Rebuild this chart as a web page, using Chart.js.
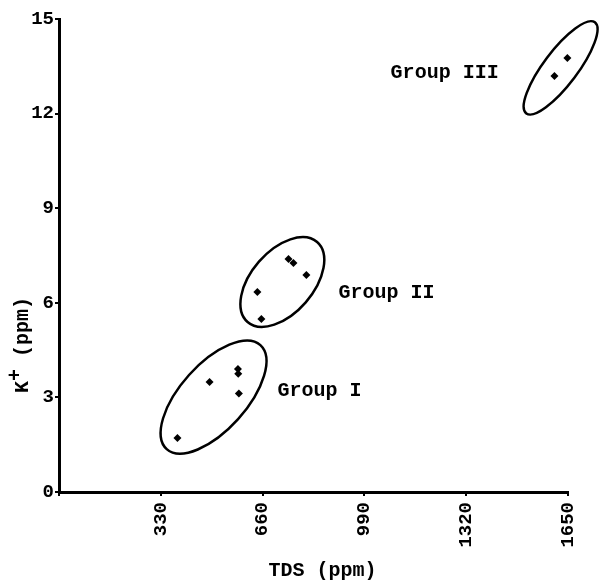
<!DOCTYPE html>
<html>
<head>
<meta charset="utf-8">
<script src="https://cdn.jsdelivr.net/npm/chart.js@4"></script>
<style>
  html, body { margin: 0; padding: 0; background: #fff; }
  canvas { display: block; }
</style>
</head>
<body>
<canvas id="tds-canvas" width="599" height="582"></canvas>
<script>
// values
const groupNames = ['Group I', 'Group II', 'Group III']
const groupOneTds = [384, 488, 580, 581, 583]
const groupOneK = [1.71, 3.49, 3.9, 3.75, 3.12]
const groupTwoTds = [643, 656, 744, 760, 802]
const groupTwoK = [6.34, 5.49, 7.39, 7.26, 6.88]
const groupThreeTds = [1606, 1648]
const groupThreeK = [13.19, 13.76]

const tdsTicks = [0, 330, 660, 990, 1320, 1650]
const kTicks = [0, 3, 6, 9, 12, 15]

// hand drawn rings round each group (centre in data units, radii in px)
const groupRings = [
  { tds: 501, k: 3.01, rx: 70, ry: 33, tilt: 48 },
  { tds: 724, k: 6.66, rx: 53, ry: 31, tilt: 49 },
  { tds: 1626, k: 13.45, rx: 57, ry: 17, tilt: 53 }
]
const groupLabelSpots = [
  { tds: 708, k: 3.2 },
  { tds: 906, k: 6.31 },
  { tds: 1075, k: 13.29 }
]

const mono = "'Liberation Mono', 'DejaVu Sans Mono', monospace"
Chart.defaults.font.family = mono
Chart.defaults.font.weight = 'bold'
Chart.defaults.color = '#000'

const toPoints = (xs, ys) => xs.map((x, i) => ({ x, y: ys[i] }))

const datasets = [
  toPoints(groupOneTds, groupOneK),
  toPoints(groupTwoTds, groupTwoK),
  toPoints(groupThreeTds, groupThreeK)
].map((data, i) => ({
  label: groupNames[i],
  data,
  clip: false,
  pointStyle: 'rectRot',
  pointRadius: 4,
  backgroundColor: '#000',
  borderColor: '#000',
  borderWidth: 0
}))

const annotations = {
  id: 'annotations',
  afterDraw(chart) {
    const { ctx, chartArea, scales: { x, y } } = chart
    ctx.save()
    ctx.strokeStyle = '#000'
    ctx.lineWidth = 2.5
    groupRings.forEach(r => {
      ctx.beginPath()
      ctx.ellipse(x.getPixelForValue(r.tds), y.getPixelForValue(r.k), r.rx, r.ry,
        -r.tilt * Math.PI / 180, 0, Math.PI * 2)
      ctx.stroke()
    })

    ctx.fillStyle = '#000'
    ctx.font = 'bold 20px ' + mono
    ctx.textAlign = 'left'
    ctx.textBaseline = 'middle'
    groupLabelSpots.forEach((spot, i) => {
      ctx.fillText(groupNames[i], x.getPixelForValue(spot.tds), y.getPixelForValue(spot.k))
    })

    // x title
    ctx.textAlign = 'center'
    ctx.fillText('TDS (ppm)', (chartArea.left + chartArea.right) / 2 + 9, 571)

    // y title, K with raised plus
    ctx.translate(23, 393)
    ctx.rotate(-Math.PI / 2)
    ctx.textAlign = 'left'
    ctx.fillText('K', 0, 0)
    const kw = ctx.measureText('K').width
    ctx.fillText('+', kw, -7)
    ctx.fillText(' (ppm)', kw + ctx.measureText('+').width, 0)
    ctx.restore()
  }
}

new Chart(document.querySelector('#tds-canvas'), {
  type: 'scatter',
  data: { datasets },
  options: {
    responsive: false,
    animation: false,
    devicePixelRatio: 1,
    layout: { padding: { top: 19, right: 31, left: 0, bottom: 0 } },
    plugins: { legend: { display: false }, tooltip: { enabled: false } },
    scales: {
      x: {
        type: 'linear',
        min: 0,
        max: 1650,
        afterBuildTicks: scale => { scale.ticks = tdsTicks.map(value => ({ value })) },
        afterFit: scale => { scale.height = 90 },
        border: { color: '#000', width: 3 },
        grid: { drawOnChartArea: false, color: '#000', lineWidth: 2, tickLength: 4 },
        ticks: {
          minRotation: 90,
          maxRotation: 90,
          padding: 6,
          font: { size: 19, weight: 'bold' },
          callback: value => (value === 0 ? '' : value)
        }
      },
      y: {
        min: 0,
        max: 15,
        afterBuildTicks: scale => { scale.ticks = kTicks.map(value => ({ value })) },
        afterFit: scale => { scale.width = 59 },
        border: { color: '#000', width: 3 },
        grid: { drawOnChartArea: false, color: '#000', lineWidth: 2, tickLength: 4 },
        ticks: { padding: 1, font: { size: 19, weight: 'bold' } }
      }
    }
  },
  plugins: [annotations]
})
</script>
</body>
</html>
